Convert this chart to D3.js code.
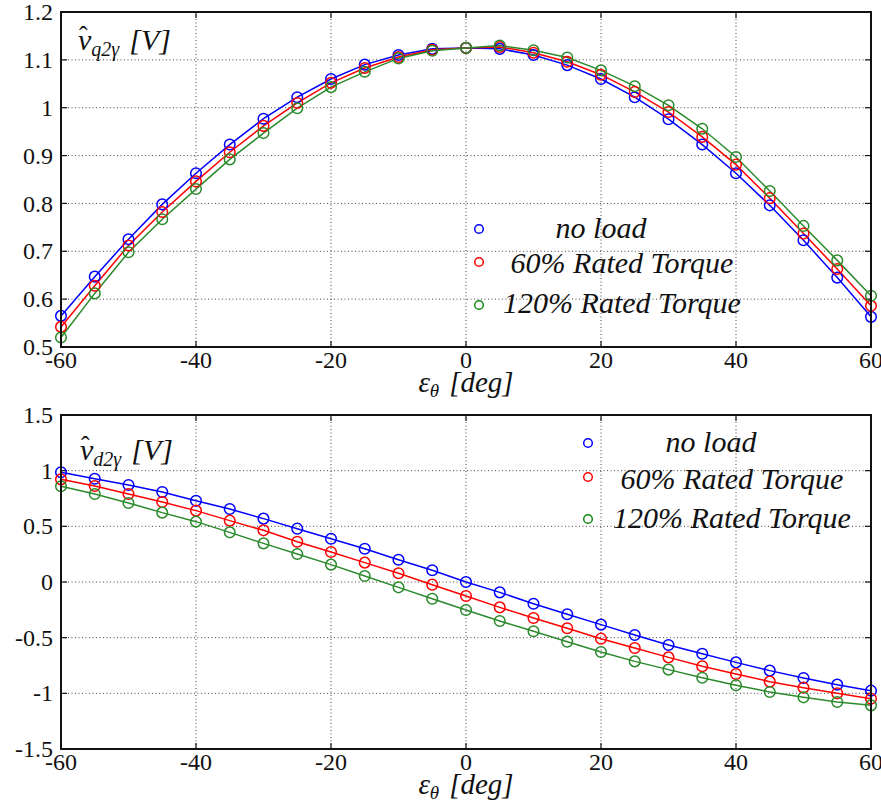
<!DOCTYPE html>
<html lang="en">
<head>
<meta charset="utf-8">
<title>v_q2 and v_d2 vs angle error</title>
<script src="https://cdn.jsdelivr.net/npm/d3@7"></script>
<style>
    body { margin: 0; background: #fff; }
    svg text { font-family: "Liberation Serif", "Times New Roman", Times, "DejaVu Serif", serif; }
    .frame { fill: none; stroke: #111; stroke-width: 2; }
    .grid { stroke: #444; stroke-width: 1; stroke-dasharray: 1 2.5; }
    .tick-mark { stroke: #111; stroke-width: 1.2; }
    .tick-label { font-size: 24px; fill: #111; }
    .series { fill: none; stroke-width: 1.5; }
    .marker { fill: none; stroke-width: 1.5; }
    .it { font-style: italic; fill: #111; }
</style>
</head>
<body>
<svg width="881" height="810"></svg>
<script>
// angle error in degrees
var angles = [-60, -55, -50, -45, -40, -35, -30, -25, -20, -15, -10, -5, 0,
              5, 10, 15, 20, 25, 30, 35, 40, 45, 50, 55, 60];

// q-axis amplitude [V]
var qNoLoad = [0.565, 0.647, 0.725, 0.798, 0.863, 0.923, 0.977, 1.022, 1.060, 1.090, 1.110, 1.123, 1.125,
               1.123, 1.110, 1.089, 1.060, 1.022, 0.976, 0.923, 0.863, 0.796, 0.723, 0.645, 0.563];
var q60     = [0.542, 0.628, 0.712, 0.782, 0.846, 0.907, 0.962, 1.010, 1.052, 1.083, 1.106, 1.121, 1.125,
               1.127, 1.115, 1.096, 1.069, 1.033, 0.991, 0.939, 0.881, 0.811, 0.737, 0.663, 0.586];
var q120    = [0.520, 0.612, 0.698, 0.767, 0.830, 0.892, 0.947, 0.999, 1.043, 1.075, 1.103, 1.119, 1.125,
               1.130, 1.120, 1.105, 1.078, 1.045, 1.005, 0.956, 0.897, 0.826, 0.753, 0.681, 0.607];

// d-axis amplitude [V]
var dNoLoad = [0.985, 0.928, 0.871, 0.809, 0.730, 0.656, 0.569, 0.479, 0.389, 0.299, 0.200, 0.105, 0.000,
               -0.093, -0.195, -0.290, -0.383, -0.476, -0.566, -0.644, -0.722, -0.796, -0.862, -0.922, -0.976];
var d60     = [0.922, 0.862, 0.790, 0.719, 0.641, 0.551, 0.464, 0.362, 0.270, 0.174, 0.078, -0.024, -0.126,
               -0.228, -0.323, -0.416, -0.509, -0.593, -0.677, -0.757, -0.826, -0.895, -0.949, -1.000, -1.048];
var d120    = [0.860, 0.790, 0.710, 0.623, 0.542, 0.446, 0.347, 0.251, 0.156, 0.054, -0.048, -0.150, -0.251,
               -0.350, -0.443, -0.536, -0.629, -0.713, -0.787, -0.860, -0.928, -0.988, -1.036, -1.078, -1.108];

var xTicks = [-60, -40, -20, 0, 20, 40, 60];
var qTicks = [0.5, 0.6, 0.7, 0.8, 0.9, 1, 1.1, 1.2];
var dTicks = [-1.5, -1, -0.5, 0, 0.5, 1, 1.5];

var seriesNames = ["no load", "60% Rated Torque", "120% Rated Torque"];
var seriesColors = ["#0000ff", "#ff0000", "#2b8a2b"];
var legendColors = ["#0000ff", "#ff0000", "#108a10"];

var svg = d3.select("svg");
var left = 61, right = 871;
var serif = "'Liberation Serif', 'Times New Roman', Times, serif";

function fmt(v) { return String(+v.toFixed(1)); }

function drawPanel(cfg) {
    var x = d3.scaleLinear().domain([-60, 60]).range([left, right]);
    var y = d3.scaleLinear().domain(cfg.domain).range([cfg.bottom, cfg.top]);
    var g = svg.append("g").attr("font-family", serif);

    // dotted grid
    g.selectAll(".gx").data(xTicks.slice(1, -1)).enter().append("line")
        .attr("class", "grid")
        .attr("x1", function (d) { return x(d); }).attr("x2", function (d) { return x(d); })
        .attr("y1", cfg.top).attr("y2", cfg.bottom);
    g.selectAll(".gy").data(cfg.ticks.slice(1, -1)).enter().append("line")
        .attr("class", "grid")
        .attr("x1", left).attr("x2", right)
        .attr("y1", function (d) { return y(d); }).attr("y2", function (d) { return y(d); });

    // inward ticks on all four sides
    var tl = 6;
    xTicks.forEach(function (t) {
        g.append("line").attr("class", "tick-mark")
            .attr("x1", x(t)).attr("x2", x(t)).attr("y1", cfg.bottom).attr("y2", cfg.bottom - tl);
        g.append("line").attr("class", "tick-mark")
            .attr("x1", x(t)).attr("x2", x(t)).attr("y1", cfg.top).attr("y2", cfg.top + tl);
    });
    cfg.ticks.forEach(function (t) {
        g.append("line").attr("class", "tick-mark")
            .attr("x1", left).attr("x2", left + tl).attr("y1", y(t)).attr("y2", y(t));
        g.append("line").attr("class", "tick-mark")
            .attr("x1", right).attr("x2", right - tl).attr("y1", y(t)).attr("y2", y(t));
    });

    // tick labels
    g.selectAll(".xl").data(xTicks).enter().append("text")
        .attr("class", "tick-label")
        .attr("x", function (d) { return x(d); })
        .attr("y", cfg.bottom + 21)
        .attr("text-anchor", "middle")
        .text(function (d) { return d; });
    g.selectAll(".yl").data(cfg.ticks).enter().append("text")
        .attr("class", "tick-label")
        .attr("x", left - 8)
        .attr("y", function (d) { return y(d); })
        .attr("dy", "0.34em")
        .attr("text-anchor", "end")
        .text(fmt);

    // series
    var line = d3.line()
        .x(function (d, i) { return x(angles[i]); })
        .y(function (d) { return y(d); });
    cfg.series.forEach(function (s, k) {
        g.append("path").datum(s)
            .attr("class", "series")
            .attr("stroke", seriesColors[k])
            .attr("d", line);
    });
    cfg.series.forEach(function (s, k) {
        g.selectAll(".m" + k).data(s).enter().append("circle")
            .attr("class", "marker")
            .attr("stroke", seriesColors[k])
            .attr("cx", function (d, i) { return x(angles[i]); })
            .attr("cy", function (d) { return y(d); })
            .attr("r", 5.3);
    });

    // box
    g.append("rect").attr("class", "frame")
        .attr("x", left).attr("y", cfg.top)
        .attr("width", right - left).attr("height", cfg.bottom - cfg.top);

    // legend
    seriesNames.forEach(function (name, k) {
        g.append("circle").attr("class", "marker")
            .attr("stroke", legendColors[k])
            .attr("cx", cfg.legend.mx).attr("cy", cfg.legend.my[k]).attr("r", 4.3);
        g.append("text").attr("class", "it")
            .attr("x", cfg.legend.tx[k]).attr("y", cfg.legend.ty[k])
            .attr("text-anchor", "middle")
            .style("font-size", "30px")
            .text(name);
    });

    // y label: v-hat with subscript
    var yl = g.append("text").attr("class", "it")
        .attr("x", cfg.ylab.x).attr("y", cfg.ylab.y)
        .style("font-size", "30px");
    yl.append("tspan").text("v");
    yl.append("tspan").attr("dy", 6).style("font-size", "20px").text(cfg.ylab.sub);
    yl.append("tspan").attr("dy", -6).attr("dx", 10).style("font-size", "30px").text("[V]");
    g.append("text")
        .attr("x", cfg.ylab.x + 1).attr("y", cfg.ylab.y - 6)
        .style("font-size", "26px").style("fill", "#111")
        .text("\u02c6");

    // x label
    var xl = g.append("text").attr("class", "it")
        .attr("x", (left + right) / 2).attr("y", cfg.bottom + 45)
        .attr("text-anchor", "middle")
        .style("font-size", "29px");
    xl.append("tspan").text("\u03b5");
    xl.append("tspan").attr("dy", 5).style("font-size", "19px").text("\u03b8");
    xl.append("tspan").attr("dy", -5).attr("dx", 10).text("[deg]");
}

drawPanel({
    top: 12, bottom: 347, domain: [0.5, 1.2], ticks: qTicks,
    series: [qNoLoad, q60, q120],
    legend: { mx: 479, my: [229, 262, 305], tx: [601, 622, 622], ty: [238, 273, 313] },
    ylab: { x: 78, y: 50, sub: "q2\u03b3" }
});

drawPanel({
    top: 415, bottom: 749, domain: [-1.5, 1.5], ticks: dTicks,
    series: [dNoLoad, d60, d120],
    legend: { mx: 588, my: [443, 477, 519], tx: [711, 732, 732], ty: [452, 489, 528] },
    ylab: { x: 80, y: 460, sub: "d2\u03b3" }
});
</script>
</body>
</html>
